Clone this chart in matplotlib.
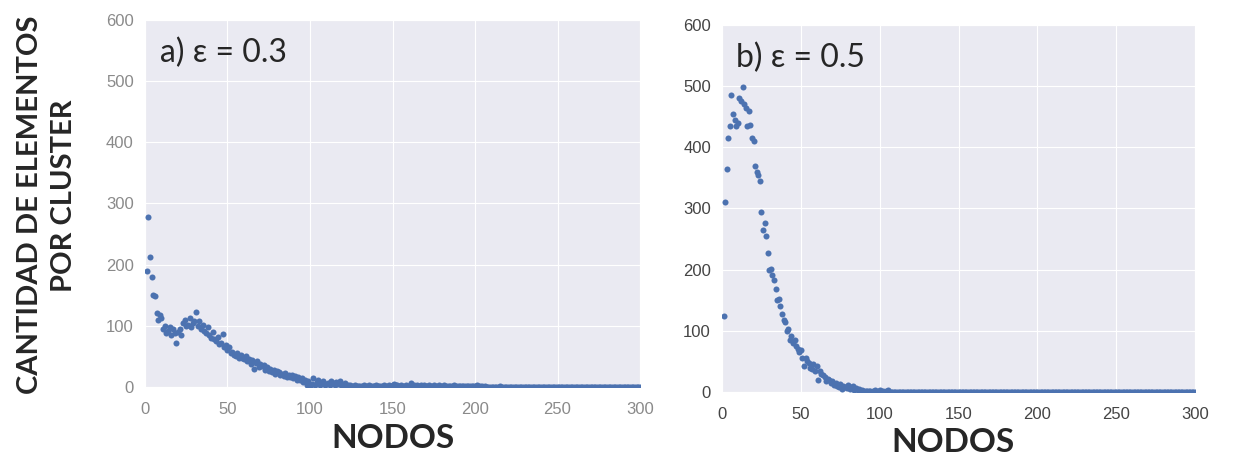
import numpy as np
import matplotlib
matplotlib.use("Agg")
from matplotlib import pyplot as plt
import seaborn as sns

# cluster sizes per node, panel a) eps = 0.3
sizes_a = [
    190, 278, 213, 180, 150, 148, 121, 110, 118, 112,
    95, 100, 88, 92, 98, 85, 95, 88, 72, 90,
    95, 85, 105, 110, 100, 102, 112, 98, 105, 108,
    122, 100, 108, 95, 102, 92, 88, 98, 85, 80,
    90, 78, 75, 82, 70, 72, 86, 65, 68, 60,
    66, 55, 58, 52, 50, 56, 48, 52, 47, 45,
    50, 42, 46, 38, 44, 30, 40, 42, 32, 38,
    35, 36, 28, 33, 26, 30, 25, 28, 22, 26,
    24, 20, 22, 18, 23, 17, 20, 16, 19, 15,
    18, 12, 16, 12, 15, 8, 11, 3, 10, 2,
    5, 14, 3, 8, 12, 4, 6, 9, 3, 5,
    7, 4, 10, 6, 3, 8, 5, 9, 4, 3,
    6, 2, 4, 3, 1, 2, 3, 1, 2, 1,
    2, 1, 3, 1, 2, 4, 1, 2, 1, 3,
    1, 2, 1, 1, 3, 2, 1, 4, 2, 3,
    5, 3, 4, 2, 3, 1, 2, 3, 1, 2,
    6, 4, 3, 2, 3, 1, 3, 2, 4, 2,
    1, 3, 2, 1, 3, 2, 1, 3, 1, 2,
    3, 1, 2, 1, 2, 1, 3, 1, 2, 1,
    2, 1, 2, 1, 1, 2, 1, 1, 2, 1,
    3, 1, 2, 1, 0, 1, 0, 0, 0, 0,
    0, 0, 0, 0, 2, 0, 0, 0, 0, 0,
    0, 0, 0, 0, 0, 0, 0, 0, 0, 0,
    0, 0, 0, 0, 0, 0, 0, 0, 0, 0,
    0, 0, 0, 0, 0, 0, 0, 0, 0, 0,
    0, 0, 0, 0, 0, 0, 0, 0, 0, 0,
    0, 0, 0, 0, 0, 0, 0, 0, 0, 0,
    0, 0, 0, 0, 0, 0, 0, 0, 0, 0,
    0, 0, 0, 0, 0, 0, 0, 0, 0, 0,
    0, 0, 0, 0, 0, 0, 0, 0, 0, 0,
]

# cluster sizes per node, panel b) eps = 0.5
sizes_b = [
    125, 310, 365, 415, 435, 485, 455, 445, 435, 440,
    480, 475, 498, 470, 465, 435, 460, 437, 415, 410,
    370, 360, 355, 345, 295, 265, 276, 255, 228, 200,
    201, 191, 183, 168, 150, 152, 140, 128, 118, 115,
    100, 103, 85, 92, 80, 85, 75, 70, 65, 68,
    55, 42, 55, 50, 48, 40, 38, 45, 35, 42,
    20, 35, 30, 28, 25, 18, 22, 20, 15, 18,
    12, 15, 10, 8, 13, 5, 10, 8, 6, 12,
    5, 8, 10, 4, 6, 3, 5, 2, 3, 1,
    2, 1, 2, 1, 0, 1, 3, 0, 1, 4,
    1, 2, 0, 2, 3, 0, 0, 0, 0, 0,
    0, 0, 0, 0, 0, 0, 0, 0, 0, 0,
    0, 0, 0, 0, 0, 0, 0, 0, 0, 0,
    0, 0, 0, 0, 0, 0, 0, 0, 0, 0,
    0, 0, 0, 0, 0, 0, 0, 0, 0, 0,
    0, 0, 0, 0, 0, 0, 0, 0, 0, 0,
    0, 0, 0, 0, 0, 0, 0, 0, 0, 0,
    0, 0, 0, 0, 0, 0, 0, 0, 0, 0,
    0, 0, 0, 0, 0, 0, 0, 0, 0, 0,
    0, 0, 0, 0, 0, 0, 0, 0, 0, 0,
    0, 0, 0, 0, 0, 0, 0, 0, 0, 0,
    0, 0, 0, 0, 0, 0, 0, 0, 0, 0,
    0, 0, 0, 0, 0, 0, 0, 0, 0, 0,
    0, 0, 0, 0, 0, 0, 0, 0, 0, 0,
    0, 0, 0, 0, 0, 0, 0, 0, 0, 0,
    0, 0, 0, 0, 0, 0, 0, 0, 0, 0,
    0, 0, 0, 0, 0, 0, 0, 0, 0, 0,
    0, 0, 0, 0, 0, 0, 0, 0, 0, 0,
    0, 0, 0, 0, 0, 0, 0, 0, 0, 0,
    0, 0, 0, 0, 0, 0, 0, 0, 0, 0,
]

panel_labels = ["a) \u03b5 = 0.3", "b) \u03b5 = 0.5"]
x_ticks = [0, 50, 100, 150, 200, 250, 300]
y_ticks = [0, 100, 200, 300, 400, 500, 600]

sns.set_style("darkgrid")
big = ["Lato", "Open Sans", "DejaVu Sans"]

fig = plt.figure(figsize=(12.37, 4.59), dpi=100)
ax_a = fig.add_axes([0.1172, 0.1569, 0.4002, 0.7995])
ax_b = fig.add_axes([0.5837, 0.1460, 0.3824, 0.7996])

for ax, sizes, lab, tcol in [(ax_a, sizes_a, panel_labels[0], "#8a8a8a"),
                             (ax_b, sizes_b, panel_labels[1], "#444444")]:
    nodes = np.arange(1, len(sizes) + 1)
    ax.scatter(nodes, sizes, s=19, color="#4C72B0", linewidths=0, zorder=3)
    ax.set_xlim(0, 300)
    ax.set_ylim(0, 600)
    ax.set_xticks(x_ticks)
    ax.set_yticks(y_ticks)
    ax.tick_params(axis="y", labelsize=12, colors=tcol, length=0, pad=8)
    ax.tick_params(axis="x", labelsize=12, colors=tcol, length=0, pad=11)
    for t in ax.get_xticklabels() + ax.get_yticklabels():
        t.set_family(["Liberation Sans", "DejaVu Sans"])
    ax.text(0.03, 0.91, lab, transform=ax.transAxes, fontsize=23,
            family=big, va="center", ha="left")

fig.text(393 / 1237, 1 - 438 / 459, "NODOS", fontsize=24, fontweight="bold",
         family=big, ha="center", va="center")
fig.text(953 / 1237, 1 - 443 / 459, "NODOS", fontsize=24, fontweight="bold",
         family=big, ha="center", va="center")
fig.text(30 / 1237, 1 - 205 / 459, "CANTIDAD DE ELEMENTOS", fontsize=21,
         fontweight="bold", family=big, rotation=90, ha="center", va="center")
fig.text(64 / 1237, 1 - 196 / 459, "POR CLUSTER", fontsize=21,
         fontweight="bold", family=big, rotation=90, ha="center", va="center")

fig.savefig("out.png", dpi=100)
